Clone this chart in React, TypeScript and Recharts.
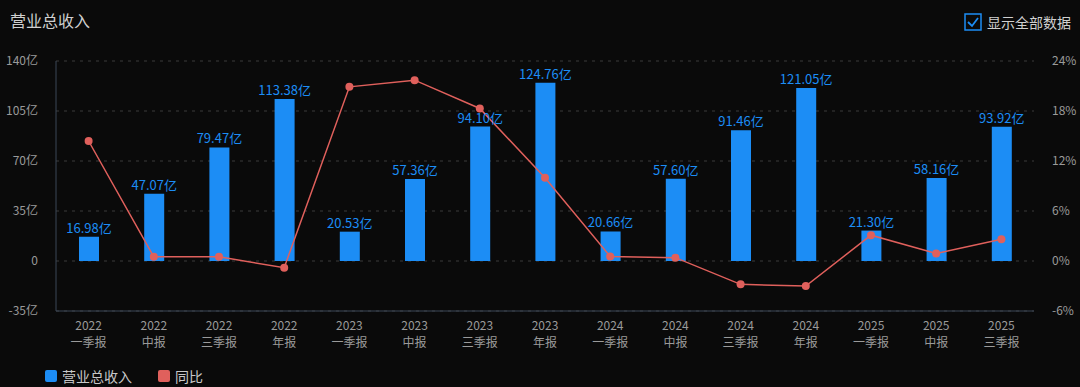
import { ComposedChart, Bar, Line, XAxis, YAxis, CartesianGrid, LabelList } from "recharts";

const years = ["2022", "2022", "2022", "2022", "2023", "2023", "2023", "2023", "2024", "2024", "2024", "2024", "2025", "2025", "2025"];
const periods = ["一季报", "中报", "三季报", "年报", "一季报", "中报", "三季报", "年报", "一季报", "中报", "三季报", "年报", "一季报", "中报", "三季报"];
const revenue = [16.98, 47.07, 79.47, 113.38, 20.53, 57.36, 94.1, 124.76, 20.66, 57.6, 91.46, 121.05, 21.3, 58.16, 93.92];
const yoy = [14.4, 0.5, 0.5, -0.8, 20.9, 21.7, 18.3, 10.0, 0.55, 0.4, -2.8, -3.0, 3.1, 0.9, 2.6];
const leftTicks = [-35, 0, 35, 70, 105, 140];
const rightTicks = [-6, 0, 6, 12, 18, 24];

const data = years.map((y, i) => ({
  name: `${y}|${periods[i]}`,
  revenue: revenue[i],
  yoy: yoy[i],
}));

const FONT = '"Noto Sans CJK SC", "Noto Sans", sans-serif';
const BLUE = "#1c8df5";
const RED = "#e0605c";

function TwoLineTick({ x, y, payload }: any) {
  const [yr, p] = String(payload.value).split("|");
  return (
    <g>
      <text x={x} y={y + 19} textAnchor="middle" fill="#9a9a9a" fontSize={12} fontFamily={FONT}>{yr}</text>
      <text x={x} y={y + 36} textAnchor="middle" fill="#9a9a9a" fontSize={12} fontFamily={FONT}>{p}</text>
    </g>
  );
}

export default function App() {
  return (
    <div style={{ position: "absolute", left: 0, top: 0, width: 1080, height: 387, background: "#0a0a0a", fontFamily: FONT }}>
      <div style={{ position: "absolute", left: 10, top: 8, fontSize: 16, color: "#d0d0d0" }}>营业总收入</div>
      <div style={{ position: "absolute", left: 964, top: 12, display: "flex", alignItems: "center" }}>
        <svg width={18} height={18}>
          <rect x={1} y={1} width={16} height={16} fill="none" stroke={BLUE} strokeWidth={1.5} />
          <path d="M4 9 L8 13 L14 5" fill="none" stroke={BLUE} strokeWidth={1.8} />
        </svg>
        <span style={{ marginLeft: 5, fontSize: 14, color: "#d0d0d0" }}>显示全部数据</span>
      </div>
      <ComposedChart
        width={1080}
        height={387}
        data={data}
        margin={{ top: 61, right: 0, left: 0, bottom: 0 }}
        style={{ position: "absolute", left: 0, top: 0 }}
      >
        <CartesianGrid vertical={false} stroke="#3a3a3a" strokeDasharray="3 5" yAxisId="left" />
        <XAxis
          dataKey="name"
          height={76}
          tick={<TwoLineTick />}
          tickLine={false}
          tickSize={0}
          tickMargin={0}
          axisLine={{ stroke: "#3b4756" }}
          interval={0}
        />
        <YAxis
          yAxisId="left"
          width={56}
          domain={[-35, 140]}
          ticks={leftTicks}
          tickFormatter={(v: number) => (v === 0 ? "0" : `${v}亿`)}
          tick={{ fill: "#9a9a9a", fontSize: 12, fontFamily: FONT }}
          tickLine={false}
          axisLine={{ stroke: "#3b4756" }}
          tickMargin={12}
        />
        <YAxis
          yAxisId="right"
          orientation="right"
          width={46}
          domain={[-6, 24]}
          ticks={rightTicks}
          tickFormatter={(v: number) => `${v}%`}
          tick={{ fill: "#9a9a9a", fontSize: 12, fontFamily: FONT }}
          tickLine={false}
          axisLine={false}
          tickMargin={12}
        />
        <Bar yAxisId="left" dataKey="revenue" fill={BLUE} barSize={20} isAnimationActive={false}>
          <LabelList
            dataKey="revenue"
            position="top"
            offset={4}
            formatter={(v: any) => `${Number(v).toFixed(2)}亿`}
            fill={BLUE}
            fontSize={13}
            fontFamily={FONT}
          />
        </Bar>
        <Line
          yAxisId="right"
          dataKey="yoy"
          stroke={RED}
          strokeWidth={1.5}
          dot={{ r: 4, fill: RED, stroke: RED, strokeWidth: 0 }}
          activeDot={false}
          isAnimationActive={false}
        />
      </ComposedChart>
      <div style={{ position: "absolute", left: 45, top: 366, display: "flex", alignItems: "center", fontSize: 14, color: "#c8c8c8" }}>
        <span style={{ width: 12, height: 12, background: BLUE, borderRadius: 2, display: "inline-block" }} />
        <span style={{ marginLeft: 5 }}>营业总收入</span>
        <span style={{ width: 12, height: 12, background: RED, borderRadius: 2, display: "inline-block", marginLeft: 26 }} />
        <span style={{ marginLeft: 5 }}>同比</span>
      </div>
    </div>
  );
}
